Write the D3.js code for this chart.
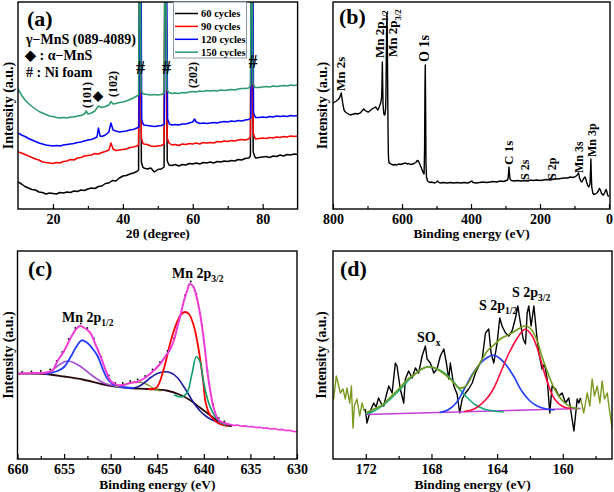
<!DOCTYPE html>
<html><head><meta charset="utf-8">
<script src="https://cdn.jsdelivr.net/npm/d3@7"></script>
<style>
body{margin:0;background:#fff}
svg{display:block}
text{font-family:"Liberation Serif","Times New Roman",serif;font-weight:bold;fill:#000}
</style></head>
<body><svg id="chart" width="614" height="492"></svg>
<script>
// ---------------- DATA ----------------
// (a) XRD, 2θ vs intensity (a.u.)
const xrdLegend = ["60 cycles","90 cycles","120 cycles","150 cycles"];
const xrdTicks = [20,40,60,80];
const xrd60 = [[10,27],[11,25],[12,22.5],[13,21],[14,19.5],[15,19],[16,17],[17,16.5],[18,15],[19,16],[20,15.5],[21,15],[22,16.5],[23,16],[24,17],[25,16.5],[26,18],[27,17.5],[28,19],[29,18.5],[30,20],[31,21],[32,20.5],[33,22.5],[34,23],[35,25.5],[36,26],[37,28.5],[38,28],[39,31],[40,33],[41,33.5],[42,35],[43,36],[44,37.5],
 [44.5,39],[44.7,230],[45.1,230],[45.3,47],[45.7,42],[46,41],[47,40],[48,41],[49,37],[50,39.5],[51,40],[51.8,42],[52.0,230],[52.4,230],[52.7,48],[53.2,44],
 [54,43.5],[55,44.5],[56,43],[57,44.5],[58,44],[59,45.5],[60,45],[61,46],[62,45],[63,46.5],[64,46],[65,47],[66,46],[67,47.5],[68,47],[69,48],[70,47.5],[71,48.5],[72,48],[73,49.5],[74,49],[75,50.5],[76,51],
 [76.5,53],[76.7,230],[77.1,230],[77.3,57],[77.8,52],[78,51],[79,51.5],[80,52],[81,52.5],[82,51.5],[83,53],[84,52.5],[85,54],[86,53],[87,54.5],[88,54],[89,55],[90,54.5]];
const xrd90 = [[10,57],[11,56],[12,54.5],[13,53],[14,51.5],[15,50],[16,49],[17,47],[18,46.5],[19,46],[20,45.5],[21,46.5],[22,46],[23,47.5],[24,48],[25,49.5],[26,49],[27,51],[28,51.5],[29,53],[30,53.5],[31,54],[32,55.5],[33,55],[34,56.5],[35,57.5],[36,59],[36.6,66],[37.2,60],[38,58.5],[39,59],[40,59.5],[41,60],[42,61.5],[43,62],[44,63],
 [44.5,64],[44.7,230],[45.1,230],[45.3,71],[45.7,66],[46,65],[47,64.5],[48,63],[49,62.5],[50,63],[51,63.5],[51.8,65],[52.0,230],[52.4,230],[52.7,71],[53.2,66],
 [54,64],[55,64.5],[56,63.5],[57,65],[58,64.5],[59,65.5],[60,65],[61,66],[62,65],[63,66.5],[64,66],[65,66.5],[66,66],[67,67.5],[68,67],[69,68],[70,67.5],[71,68.5],[72,68],[73,69],[74,69.5],[75,69],[76,70],
 [76.5,72],[76.7,230],[77.1,230],[77.3,76],[77.8,71],[78,70],[79,70.5],[80,71],[81,70.5],[82,71.5],[83,71],[84,72],[85,71.5],[86,72.5],[87,72],[88,73],[89,72.5],[90,73]];
const xrd120 = [[10,76],[11,74],[12,72.5],[13,70.5],[14,69],[15,67.5],[16,66],[17,65],[18,64],[19,63.5],[20,63],[21,63.5],[22,63],[23,64],[24,64.5],[25,65],[26,65.5],[27,66.5],[28,67],[29,68],[30,69],[31,69.5],[32,71],[32.6,72],[33.0,81],[33.5,73],[34,72.5],[35,74],[36,77],[36.6,86],[37.2,79],[38,78],[39,77],[40,77.5],[41,78],[42,79],[43,79.5],[44,81],
 [44.6,82],[44.8,240],[45.2,240],[45.4,89],[45.8,85],[46,84],[47,83.5],[48,83],[49,82.5],[50,83],[51,83.5],[51.9,85],[52.1,240],[52.5,240],[52.8,90],[53.3,85],
 [54,84],[55,84.5],[56,84],[57,85],[58,85],[59,86],[60,87],[60.5,90],[61,87],[62,85.5],[63,86],[64,85.5],[65,86],[66,86.5],[67,86],[68,87],[69,87.5],[70,87],[71,88],[72,87.5],[73,88.5],[74,88],[75,89],[76,89.5],
 [76.6,91],[76.8,240],[77.2,240],[77.4,96],[77.9,92],[78,91.5],[79,91.5],[80,92],[81,91.5],[82,92.5],[83,92],[84,93],[85,92.5],[86,93],[87,92.5],[88,93.5],[89,93],[90,93.5]];
const xrd150 = [[10,120],[11,114],[12,109],[13,105.5],[14,102.5],[15,100],[16,97.5],[17,96],[18,94.5],[19,93],[20,92.5],[21,91.5],[22,91],[23,91.5],[24,91],[25,92],[26,92],[27,93],[28,93.5],[29,95],[29.5,98],[30,95],[31,96],[32,98],[33,103],[34,101.5],[35,102.5],[36,104],[36.6,107.5],[37.2,105],[38,105.5],[39,106.5],[40,107],[41,108],[42,109.5],[43,111],[44,113],
 [44.5,114],[44.7,240],[45.0,240],[45.2,119],[45.6,116],[46,115],[47,114.5],[48,114],[49,114.5],[50,114],[51,114.5],[51.8,116],[52.0,240],[52.3,240],[52.6,120],[53.1,116.5],
 [54,115.5],[55,116],[56,115.5],[57,116.5],[58,116],[59,117],[60,117.5],[61,117],[62,118],[63,117.5],[64,118.5],[65,118],[66,118.5],[67,118],[68,119],[69,118.5],[70,119],[71,119.5],[72,119],[73,120],[74,120.5],[75,120.5],[76,121],
 [76.5,123],[76.7,240],[77.0,240],[77.2,126],[77.7,122],[78,121.5],[79,121.5],[80,122],[81,122.5],[82,122],[83,123],[84,122.5],[85,123],[86,123.5],[87,123],[88,124],[89,123.5],[90,124]];

// (b) XPS survey, binding energy (eV) vs intensity
const surveyTicks = [800,600,400,200,0];
const survey = [[800,106],[795,107],[790,108],[785,109.5],[781,111],[778,114],[776,116],[774,111],[771,104],[768,99],[764,97],[760,96],[755,95],[750,94],[745,94.5],[740,95],[735,95.5],[730,95],[725,95.5],[721,96],[716,98],[711,100],[707,98.5],[702,97.5],[697,97],[692,98.5],[687,100],[682,101],[677,102],[673,100.5],[670,99],[667,101],[664,104],[661,107],[659,112],[658,125],[657,147],[656,125],[655,105],[653,96],[651,94],[649,95],[647.5,100],[646.5,115],[645.5,150],[644.5,185],[643.5,196],[642.5,170],[641.5,120],[640.5,80],[639.5,55],[638.5,48],[637,46],
 [634,45.5],[630,44.5],[625,44],[620,44.5],[615,44],[610,45],[605,44.5],[600,45],[595,45.5],[590,46],[585,45],[580,45.5],[575,44.5],[570,45],[565,45.5],[560,46.5],[557,48],[554,48.5],[551,47],[548,44.5],[545,42],[541,38.5],[538,36],[536,35],[534.5,60],[533.5,120],[532.5,144],[531.5,100],[530.5,45],[529,32],[526,28],[522,27],[518,26.5],[514,27],[510,26.5],[505,26],[500,27],[497,28],[494,27],[490,26],[480,26.5],[470,26],[460,26.5],[450,26],[440,26.5],[430,26],[420,26.5],[410,26],[402,27],[398,28],[394,26.5],[385,26],[375,26.5],[365,27],[355,26.5],[345,27],[335,27.5],[325,27],[315,28],[305,27.5],[298,28.5],[294,29],[292,32],[290,42],[288.5,36],[287,30],[283,28.5],[275,28],[265,28.5],[255,28],[245,28.5],[235,28],[228,29],[220,28.5],[210,29],[200,28.5],[190,29],[180,29.5],[170,29],[160,30],[150,30],[140,30.5],[130,31],[120,31],[112,32],[106,31.5],[100,32],[95,33],[92,34],[89,36],[88,36],[86,32],[83,29],[80,27],[77,28],[74,30],[70,32],[68,31],[65,27],[62,24],[59,22],[56,24],[55,26],[53.5,38],[52.5,50],[51.5,36],[50,22],[47,16],[44,14.5],[40,15],[35,16],[31,18],[28,20.5],[25,19],[22,16],[19,14.5],[16,14],[13,16],[10,18.5],[8,19.5],[6,17],[4,14],[2,13],[0,12.5]];
const surveyLabels = [
 {t:"Mn 2s",s:"",e:776,v:118,size:13},
 {t:"Mn 2p",s:"1/2",e:663,v:151,size:13},
 {t:"Mn 2p",s:"3/2",e:626,v:152,size:13},
 {t:"O 1s",s:"",e:532.5,v:147,size:14},
 {t:"C 1s",s:"",e:290,v:44,size:13},
 {t:"S 2s",s:"",e:244,v:29,size:12},
 {t:"S 2p",s:"",e:165,v:29,size:12},
 {t:"Mn 3s",s:"",e:88,v:36,size:12},
 {t:"Mn 3p",s:"",e:50,v:52,size:12}];

// (c) Mn 2p high-resolution
const mnTicks = [660,655,650,645,640,635,630];
const mnBackground = [[660,85.3],[657,85],[655,82.5],[653,79.5],[651,75],[649.5,72.5],[648,71],[646,70],[644,68.5],[642.5,64],[641.5,59],[640.5,52],[639.5,45],[638.5,38],[637.5,33.5],[637,33]];
const mnEnvelope = [[660,85.3],[658,86],[657,86.3],[656.3,88],[655.7,98],[655,108],[654.3,121],[653.7,130],[653.3,133],[652.8,131],[652.2,126.3],[651.6,114],[651.1,103],[650.5,88],[650,78],[649.3,74],[648.6,74],[647.9,76],[647.2,77],[646.5,80],[645.8,85],[645.2,90],[644.7,95],[644.1,103],[643.6,110],[643.2,119],[642.9,130],[642.5,144],[642.2,156],[641.8,168],[641.5,175.3],[641.1,172],[640.8,163],[640.4,145],[640.1,126],[639.8,103],[639.6,86],[639.3,68],[639,53],[638.6,42],[638.3,38],[637.8,36],[637.2,34.5]];
const mnRawTail = [[637.2,34.5],[636.8,33.6],[636.4,34],[636,32.8],[635.6,33.1],[635.2,32.2],[634.8,32.5],[634.4,31.4],[634,31.7],[633.6,30.8],[633.2,31.1],[632.8,30],[632.4,30.4],[632,29.3],[631.6,29.6],[631.2,28.4],[630.8,28.8],[630.4,27.6],[630,27.2]];
const mnRawDots = [[659.5,87],[658.5,87.5],[657.5,88],[656.5,89.5],[655.8,98],[655.2,107],[654.5,120],[653.8,131],[653.2,135.5],[652.5,131],[651.8,120.5],[651,102],[650.2,83.5],[649.5,76],[648.7,76],[647.9,78],[647.1,79.5],[646.3,83],[645.5,89.5],[644.7,97],[643.9,108],[643.2,121],[642.6,142],[642,164],[641.4,177.5],[640.8,165],[640.2,134],[639.6,88],[639,55],[638.4,41],[637.8,37.5]];
const mn2p12Main = [[657,85],[656.5,86],[655.7,88],[655,92],[654.3,102],[653.7,112],[653.1,118.7],[652.5,116],[652,111],[651.4,103],[650.9,91],[650.4,81],[649.8,75],[649.2,72.5],[648.5,71.5],[647.5,71]];
const mn2p12Sat = [[658.5,85.5],[657.5,85.8],[656.5,87.5],[655.7,93],[655,97],[654.6,98],[654,96.5],[653.3,93],[652.6,88],[652,83.5],[651.3,79],[650.6,75.5],[650,74],[649.3,72.5],[648.5,71.5]];
const mnOlive = [[649.5,72.5],[648.5,74.5],[647.8,76.5],[647.2,77],[646.5,76],[645.8,73],[645.2,69.5],[644.6,68]];
const mnNavy = [[647.5,71],[646.9,73],[646.3,77],[645.7,81.5],[645,85.5],[644.2,87.3],[643.5,86],[642.8,81],[642.2,73],[641.6,64],[641,55],[640.4,48],[639.8,43],[639.2,39.5],[638.5,37]];
const mnRed = [[646,70],[645.1,71.3],[644.3,90],[643.6,116.3],[642.9,136.3],[642.4,145],[642,147],[641.6,145],[641.1,134],[640.6,112],[640.1,80],[639.8,56.3],[639.4,45],[639,40],[638.5,36],[638,34],[637.5,33]];
const mnTeal = [[643.2,64],[642.4,62],[641.8,66.3],[641.3,84],[640.8,102.3],[640.4,97],[640.1,81],[639.8,67],[639.4,54],[638.9,44],[638.3,37.5],[637.6,33.5]];

// (d) S 2p high-resolution
const sTicks = [172,168,164,160];
const sBackground = [[172,44.5],[158.9,50.5]];
const sRawLeft = [[174,62],[173.96,60],[173.8,83],[173.65,73],[173.55,66],[173.39,70],[173.25,60],[173.15,71],[172.98,56],[172.88,73],[172.78,31],[172.7,53],[172.54,60],[172.37,43],[172.23,56],[172.09,48],[172.03,50]];
const sRaw = [[172.03,50],[171.93,36],[171.75,47],[171.52,56],[171.38,52],[171.22,61],[171.05,55],[170.91,53],[170.75,64],[170.6,73],[170.4,66],[170.2,96],[170.1,93],[169.9,70],[169.69,56],[169.59,80],[169.39,88],[169.18,81],[168.98,91],[168.78,86],[168.57,103],[168.37,113],[168.27,100],[168.07,96],[167.86,86],[167.66,90],[167.46,103],[167.25,110],[167.09,96],[166.95,80],[166.85,96],[166.64,73],[166.44,65],[166.28,46],[166.13,60],[165.93,66],[165.73,70],[165.52,76],[165.32,86],[165.12,93],[164.91,100],[164.71,126],[164.51,130],[164.37,106],[164.2,96],[164.0,116],[163.84,141],[163.7,133],[163.49,126],[163.29,123],[163.09,128],[162.88,141],[162.74,153],[162.58,136],[162.41,120],[162.27,115],[162.17,146],[162.07,153],[161.93,133],[161.76,153],[161.6,126],[161.46,106],[161.26,90],[161.11,95],[160.95,80],[160.79,46],[160.65,73],[160.44,70],[160.24,63],[160.04,66],[159.83,56],[159.63,61],[159.43,40],[159.32,28],[159.12,60],[159.02,56],[158.92,61]];
const sRawRight = [[158.92,61],[158.72,46],[158.51,66],[158.35,53],[158.21,80],[158.07,63],[157.9,73],[157.74,56],[157.6,78],[157.46,60],[157.29,66],[157.13,46],[156.99,31]];
const sSOx = [[172,45],[171.5,48],[171,53],[170.5,60],[170,68],[169.5,77],[169,85],[168.6,90],[168.2,92.3],[167.8,91],[167.3,87],[166.8,80],[166.3,70],[165.8,61],[165.3,54],[164.8,50],[164.2,48],[163.6,47]];
const s2p12 = [[167.5,46.5],[167,49],[166.5,56],[166,70],[165.5,85],[165,96],[164.6,101.5],[164.3,103.7],[164,102.5],[163.5,95],[163,83],[162.5,68],[162,58],[161.5,52.5],[161,50],[160.5,49]];
const s2p32 = [[166,47.5],[165.4,50],[164.6,61],[164.2,71],[163.8,86],[163.3,105],[162.8,120],[162.3,129.7],[161.9,124],[161.6,113],[161,80],[160.5,60],[160,52.5],[159.5,50.5]];
const sEnvelope = [[172,46],[171.5,50],[171,54],[170.5,62],[170,70],[169.5,79],[169,85],[168.6,90],[168.2,92.3],[167.8,91],[167.3,86],[166.8,79],[166.3,71],[165.9,73],[165.5,84],[165,97],[164.6,108],[164.2,114],[163.8,120],[163.4,123.5],[163,127],[162.6,131],[162.3,133],[162,131],[161.6,120],[161.3,104],[161,90],[160.5,70],[160,58],[159.5,52],[159,50.5]];

// ---------------- DRAWING ----------------
const svg = d3.select("#chart");
const panels = {
  a:{x0:18,x1:297.6,y0:2,y1:209},
  b:{x0:333,x1:610,y0:2,y1:209},
  c:{x0:17.5,x1:297,y0:251,y1:459},
  d:{x0:333,x1:612,y0:251,y1:459}
};
function clip(id,p){
  svg.append("clipPath").attr("id",id).append("rect")
    .attr("x",p.x0).attr("y",p.y0).attr("width",p.x1-p.x0).attr("height",p.y1-p.y0);
}
function frame(p){
  svg.append("rect").attr("x",p.x0).attr("y",p.y0).attr("width",p.x1-p.x0).attr("height",p.y1-p.y0)
    .attr("fill","none").attr("stroke","#000").attr("stroke-width",1.4);
}
function axis(p,x,major,minor,pad){
  const g = svg.append("g").attr("transform",`translate(0,${p.y1})`)
    .call(d3.axisBottom(x).tickValues(major).tickSizeInner(-5).tickSizeOuter(0).tickPadding(pad).tickFormat(d3.format("d")));
  g.select(".domain").remove();
  g.attr("font-family",null).attr("font-size",null);
  g.selectAll(".tick line").attr("stroke","#000").attr("stroke-width",1.2);
  g.selectAll(".tick text").style("font-size","14px");
  const m = svg.append("g").attr("transform",`translate(0,${p.y1})`)
    .call(d3.axisBottom(x).tickValues(minor).tickSizeInner(-3).tickSizeOuter(0).tickFormat(""));
  m.select(".domain").remove();
  m.selectAll(".tick line").attr("stroke","#000").attr("stroke-width",1.2);
}
function titles(p,xt,cxBase,yTitleX){
  svg.append("text").attr("x",(p.x0+p.x1)/2).attr("y",cxBase).attr("text-anchor","middle")
    .style("font-size","13.5px").text(xt);
  svg.append("text").attr("transform",`translate(${yTitleX},${(p.y0+p.y1)/2}) rotate(-90)`)
    .attr("text-anchor","middle").attr("dominant-baseline","central").style("font-size","14px").text("Intensity (a.u.)");
}
function drawLine(data,x,y,color,w,clipId,curve){
  const gen = d3.line().x(d=>x(d[0])).y(d=>y(d[1]));
  if(curve) gen.curve(curve);
  svg.append("path").attr("d",gen(data)).attr("fill","none").attr("stroke",color)
    .attr("stroke-width",w).attr("stroke-linejoin","round").attr("clip-path",`url(#${clipId})`);
}
function subText(sel,main,sub,size){
  sel.append("tspan").text(main);
  if(sub) sel.append("tspan").attr("dy",4).style("font-size",(size*0.68)+"px").text(sub);
}

// ---- Panel (a)
{
  const p = panels.a;
  const x = d3.scaleLinear().domain([10,90]).range([p.x0,p.x1]);
  const y = d3.scaleLinear().domain([0,207]).range([p.y1,p.y0]);
  clip("ca",p);
  const cols = ["#000000","#ff0000","#0000ff","#2a9a6c"];
  [xrd60,xrd90,xrd120,xrd150].forEach((s,i)=>drawLine(s,x,y,cols[i],1.5,"ca"));
  frame(p);
  axis(p,x,xrdTicks,[30,50,70],5.5);
  titles(p,"2θ (degree)",237.5,8);
  const lg = svg.append("g");
  lg.append("rect").attr("x",173.5).attr("y",2).attr("width",73).attr("height",56)
    .attr("fill","#fff").attr("stroke","#8a96a3").attr("stroke-width",1);
  xrdLegend.forEach((t,i)=>{
    const yy = 13.5 + i*12.9;
    lg.append("line").attr("x1",175).attr("x2",198).attr("y1",yy).attr("y2",yy).attr("stroke",cols[i]).attr("stroke-width",1.5);
    lg.append("text").attr("x",201).attr("y",yy+3.6).style("font-size","10.5px").text(t);
  });
  svg.append("text").attr("x",27).attr("y",26).style("font-size","22px").text("(a)");
  svg.append("text").attr("x",26).attr("y",44).style("font-size","14px").text("γ−MnS (089-4089)");
  svg.append("text").attr("x",25).attr("y",60).style("font-size","14px").text("◆ : α−MnS");
  svg.append("text").attr("x",26).attr("y",77).style("font-size","14px").text("# : Ni foam");
  const rot = (t,cx,by)=>svg.append("text").attr("transform",`translate(${cx+4},${by}) rotate(-90)`).style("font-size","12px").text(t);
  rot("(101)",87,108); rot("(102)",113,97); rot("(202)",193,88);
  svg.append("text").attr("x",98).attr("y",100).attr("text-anchor","middle").style("font-size","13px").text("◆");
  [[140.5,74],[166.5,74],[253,68]].forEach(([cx,by])=>
    svg.append("text").attr("x",cx).attr("y",by).attr("text-anchor","middle").style("font-size","18px").text("#"));
}

// ---- Panel (b)
{
  const p = panels.b;
  const x = d3.scaleLinear().domain([800,0]).range([p.x0,609]);
  const y = d3.scaleLinear().domain([0,207]).range([p.y1,p.y0]);
  clip("cb",p);
  drawLine(survey,x,y,"#000",1.4,"cb");
  frame(p);
  axis(p,x,surveyTicks,[700,500,300,100],5.5);
  titles(p,"Binding energy (eV)",238,322);
  svg.append("text").attr("x",339).attr("y",24).style("font-size","22px").text("(b)");
  surveyLabels.forEach(l=>{
    const t = svg.append("text").attr("transform",`translate(${x(l.e)+4},${y(l.v)}) rotate(-90)`)
      .style("font-size",l.size+"px");
    subText(t,l.t,l.s,l.size);
  });
}

// ---- Panel (c)
{
  const p = panels.c;
  const x = d3.scaleLinear().domain([660,630]).range([p.x0,p.x1]);
  const y = d3.scaleLinear().domain([0,208]).range([p.y1,p.y0]);
  clip("cc",p);
  const sm = d3.curveCatmullRom.alpha(0.5);
  drawLine(mnBackground,x,y,"#2a0a0a",1.8,"cc",sm);
  drawLine(mn2p12Sat,x,y,"#a64fd0",1.6,"cc",sm);
  drawLine(mn2p12Main,x,y,"#1f3cff",1.8,"cc",sm);
  drawLine(mnOlive,x,y,"#7f9a35",1.4,"cc",sm);
  drawLine(mnNavy,x,y,"#1a1a9e",1.6,"cc",sm);
  drawLine(mnRed,x,y,"#ff0000",1.8,"cc",sm);
  drawLine(mnTeal,x,y,"#0f9a6a",1.6,"cc",sm);
  svg.append("g").attr("clip-path","url(#cc)").selectAll("circle").data(mnRawDots).join("circle")
    .attr("cx",d=>x(d[0])).attr("cy",d=>y(d[1])).attr("r",0.9).attr("fill","#000");
  drawLine(mnEnvelope,x,y,"#f03ad6",2,"cc",sm);
  drawLine(mnRawTail,x,y,"#f03ad6",1.6,"cc");
  frame(p);
  axis(p,x,mnTicks,[657.5,652.5,647.5,642.5,637.5,632.5],5);
  titles(p,"Binding energy (eV)",489,8);
  svg.append("text").attr("x",28).attr("y",276).style("font-size","22px").text("(c)");
  subText(svg.append("text").attr("x",62).attr("y",322).style("font-size","14px"),"Mn 2p","1/2",14);
  subText(svg.append("text").attr("x",172).attr("y",278).style("font-size","14px"),"Mn 2p","3/2",14);
}

// ---- Panel (d)
{
  const p = panels.d;
  const x = d3.scaleLinear().domain([174,157]).range([p.x0,p.x1]);
  const y = d3.scaleLinear().domain([0,208]).range([p.y1,p.y0]);
  clip("cd",p);
  const sm = d3.curveCatmullRom.alpha(0.5);
  drawLine(sRawLeft,x,y,"#7a9a1e",1.4,"cd");
  drawLine(sRawRight,x,y,"#7a9a1e",1.4,"cd");
  drawLine(sRaw,x,y,"#000",1.4,"cd");
  drawLine(sBackground,x,y,"#c040d8",1.6,"cd");
  drawLine(sSOx,x,y,"#12a878",1.5,"cd",sm);
  drawLine(s2p12,x,y,"#1f3cff",1.6,"cd",sm);
  drawLine(s2p32,x,y,"#ff0a3a",1.6,"cd",sm);
  drawLine(sEnvelope,x,y,"#6f9a1a",1.6,"cd",sm);
  frame(p);
  axis(p,x,sTicks,[170,166,162,158],5);
  titles(p,"Binding energy (eV)",489,321);
  svg.append("text").attr("x",340).attr("y",276).style("font-size","22px").text("(d)");
  subText(svg.append("text").attr("x",417).attr("y",342).style("font-size","14px"),"SO","x",14);
  subText(svg.append("text").attr("x",479).attr("y",310).style("font-size","14px"),"S 2p","1/2",14);
  subText(svg.append("text").attr("x",512).attr("y",297).style("font-size","14px"),"S 2p","3/2",14);
}
</script></body></html>
